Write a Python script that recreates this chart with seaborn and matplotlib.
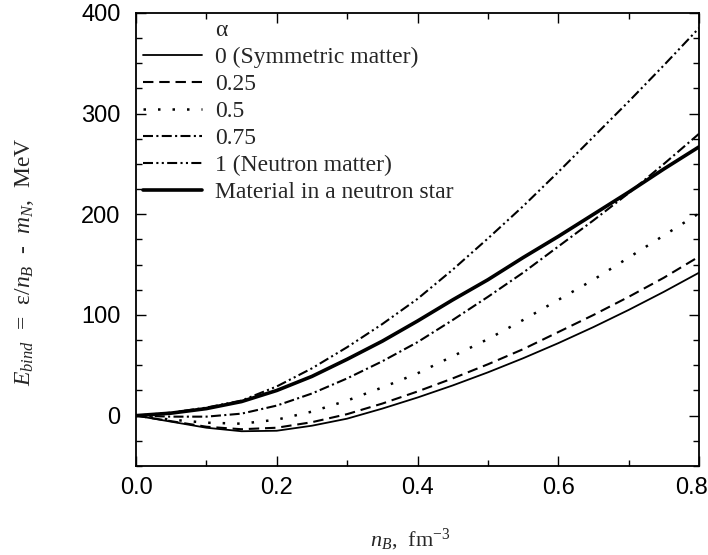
import numpy as np
import pandas as pd
import seaborn as sns
import matplotlib.pyplot as plt
import matplotlib.transforms as mtransforms
from matplotlib.lines import Line2D
from matplotlib.ticker import MultipleLocator

# Baryon density, fm^-3
n_b = [0.0, 0.05, 0.1, 0.15, 0.2, 0.25, 0.3, 0.35, 0.4,
       0.45, 0.5, 0.55, 0.6, 0.65, 0.7, 0.75, 0.8]

# Binding energy curves, MeV
e_alpha_0 = [0, -6, -12, -15.5, -15, -10, -3, 7, 18, 30, 43, 57, 72, 88, 105, 123, 142]
e_alpha_025 = [0, -5.5, -11, -13.5, -12, -6.5, 1.5, 12, 24, 37, 51, 66, 83, 100, 118, 137, 158]
e_alpha_05 = [0, -4, -7, -8, -4, 4, 15, 28, 42, 59, 76, 95, 115, 135, 157, 179, 201]
e_alpha_075 = [0, -1, -1, 2, 10, 22, 37, 54, 73, 95, 118, 142, 168, 194, 221, 250, 280]
e_alpha_1 = [0, 3, 8, 15, 29, 47, 68, 91, 116, 145, 176, 208, 242, 277, 312, 348, 385]
e_star = [0, 2.5, 7, 14, 25, 39, 56, 74, 94, 115, 135, 157, 178, 200, 222, 245, 267]

labels = ["0 (Symmetric matter)", "0.25", "0.5", "0.75",
          "1 (Neutron matter)", "Material in a neutron star"]
curves = [e_alpha_0, e_alpha_025, e_alpha_05, e_alpha_075, e_alpha_1, e_star]

# line styles for each curve
styles = [
    dict(lw=1.3, ls="-"),
    dict(lw=1.5, ls=(0, (5, 2.8))),
    dict(lw=1.8, ls=(0, (1, 4.8))),
    dict(lw=1.5, ls=(0, (4.8, 1.6, 1, 1.6))),
    dict(lw=1.5, ls=(0, (4.8, 1.6, 1, 1.6, 1, 1.6))),
    dict(lw=2.6, ls="-"),
]

df = pd.concat([pd.DataFrame({"n": n_b, "E": c, "curve": lab})
                for c, lab in zip(curves, labels)], ignore_index=True)

sns.set_theme(style="ticks")
plt.rcParams["font.family"] = ["Liberation Sans Narrow", "Liberation Sans", "DejaVu Sans"]
plt.rcParams["mathtext.fontset"] = "custom"
plt.rcParams["mathtext.rm"] = "Liberation Serif"
plt.rcParams["mathtext.it"] = "Liberation Serif:italic"

fig = plt.figure(figsize=(7.08, 5.55), dpi=100)
ax = fig.add_axes([0.1921, 0.1604, 0.7952, 0.8162])

for lab, st in zip(labels, styles):
    sns.lineplot(data=df[df["curve"] == lab], x="n", y="E", ax=ax,
                 color="black", linewidth=st["lw"], linestyle=st["ls"],
                 label=lab)

ax.set_xlim(0, 0.8)
ax.set_ylim(-50, 400)
ax.xaxis.set_minor_locator(MultipleLocator(0.1))
ax.yaxis.set_major_locator(MultipleLocator(100))
ax.yaxis.set_minor_locator(MultipleLocator(25))
ax.set_xticks([0.0, 0.2, 0.4, 0.6, 0.8])
ax.set_xticklabels(["0.0", "0.2", "0.4", "0.6", "0.8"])
ax.tick_params(which="both", direction="in", top=True, right=True,
               width=1.0, color="black", labelsize=17, labelcolor="black")
ax.tick_params(which="major", length=7, pad=8)
ax.tick_params(which="minor", length=4)
ax.tick_params(axis="y", which="major", pad=11)
for sp in ax.spines.values():
    sp.set_linewidth(1.3)
    sp.set_color("black")

# nudge the last x tick label so it stays inside the figure
last = ax.get_xticklabels()[-1]
last.set_transform(last.get_transform() +
                   mtransforms.ScaledTranslation(-8 / 100, 0, fig.dpi_scale_trans))

serif = ["Liberation Serif", "DejaVu Serif"]
ax.set_xlabel(r"$n_B$,  fm$^{-3}$", fontsize=16, family=serif)
ax.set_ylabel(r"$E_{bind}$  =  ε/$n_B$  -  $m_N$,  MeV", fontsize=17,
              family=serif)
ax.xaxis.set_label_coords(0.488, -0.135)
ax.yaxis.set_label_coords(-0.178, 0.45)

# Legend with the alpha heading as an empty row
handles = [Line2D([], [], color="none")] + ax.get_lines()[:6]
leg_labels = ["α"] + labels
ax.legend(handles, leg_labels, loc="upper left", frameon=False,
          bbox_to_anchor=(0.012, 0.985), borderaxespad=0, borderpad=0,
          handlelength=2.5, handletextpad=0.55, labelspacing=0.23,
          prop={"family": serif, "size": 17})

fig.savefig("out.png", dpi=100)
